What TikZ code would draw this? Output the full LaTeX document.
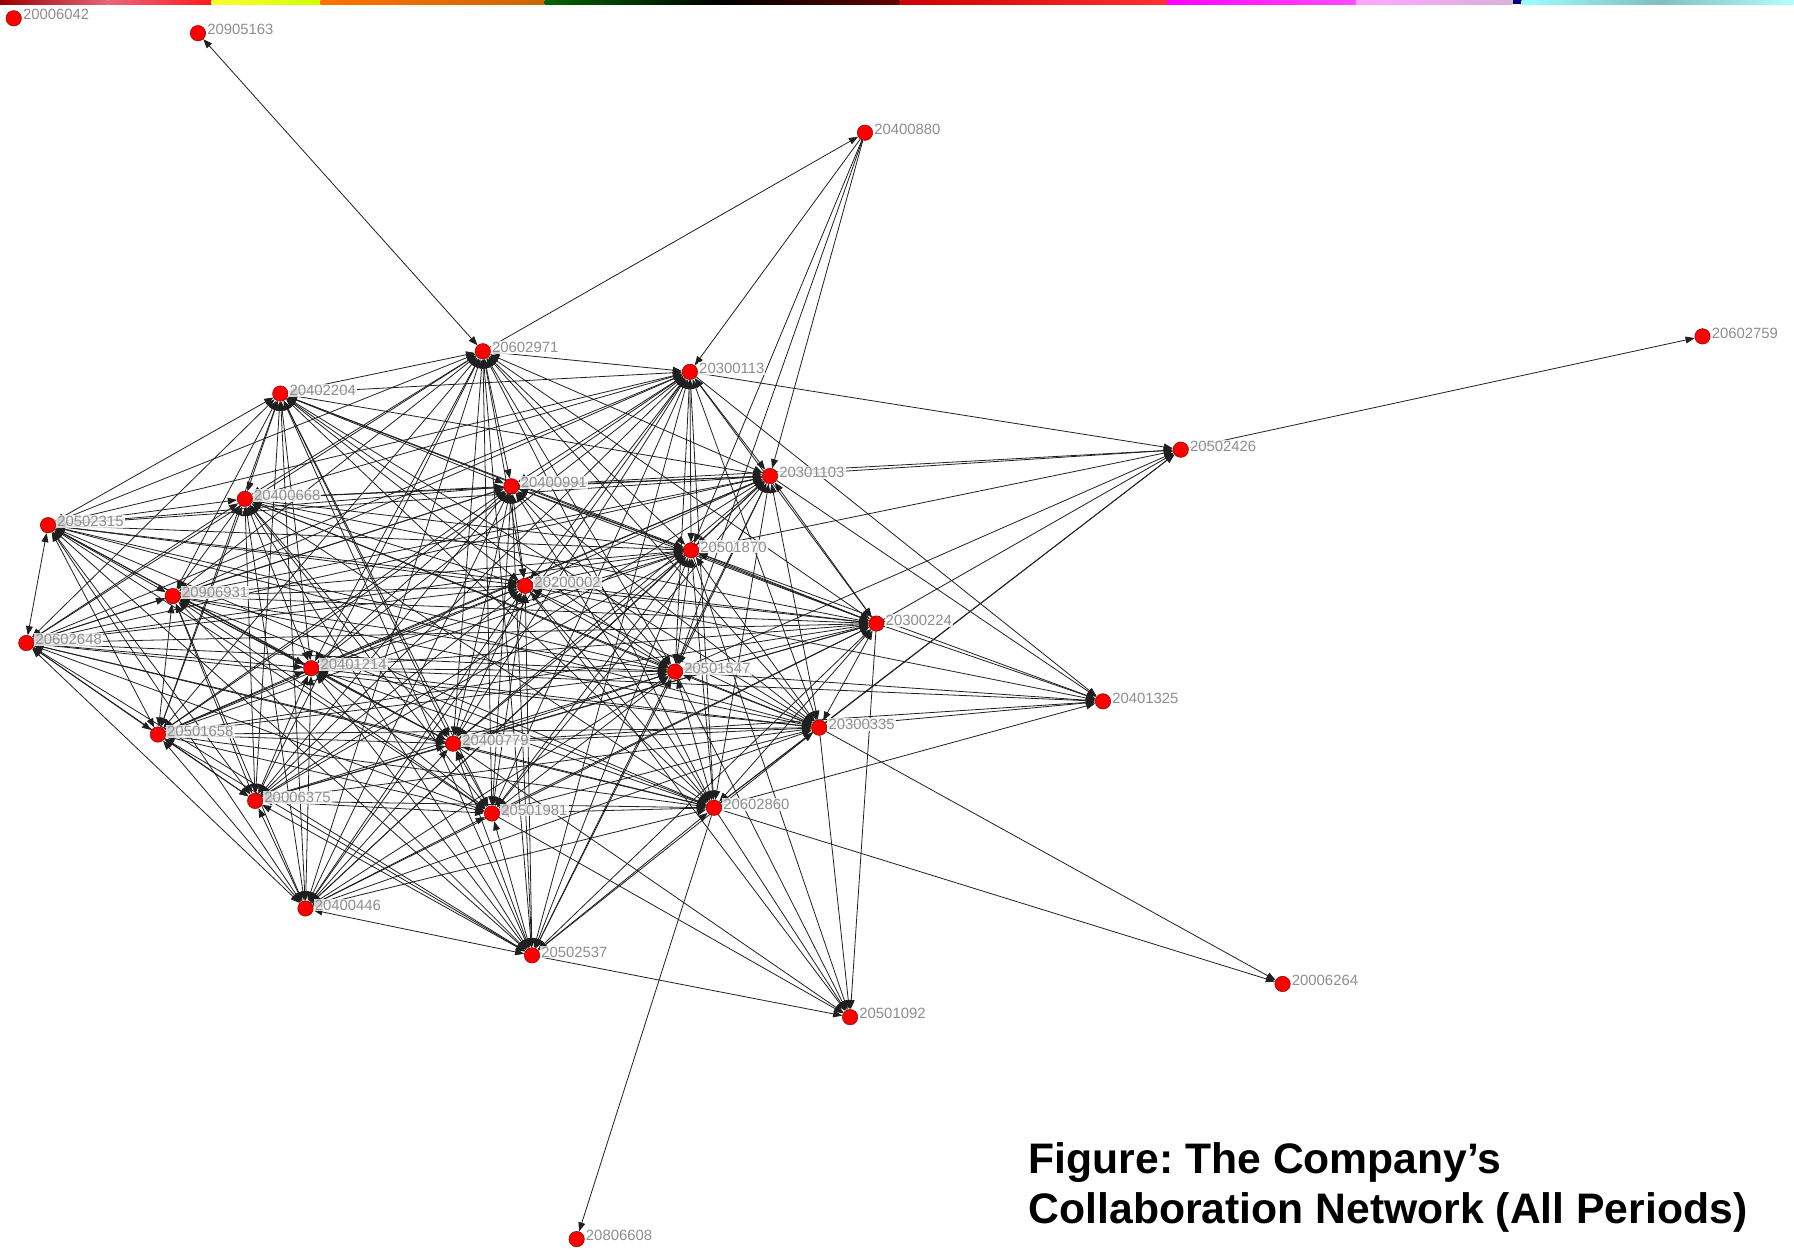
\documentclass[tikz,border=0pt]{standalone}
\usepackage{fontspec}
\setmainfont{Liberation Sans}
\usepackage{xcolor}
\definecolor{dot}{HTML}{FF0000}
\definecolor{dotrim}{HTML}{7A0000}
\definecolor{idtext}{HTML}{8E8E8E}
\usetikzlibrary{arrows.meta, backgrounds}
\tikzset{
  >={Triangle[length=8pt, width=6pt]},
  actor/.style={circle, fill=dot, draw=dotrim, line width=0.4pt, minimum size=13.5pt, inner sep=0pt},
  idlab/.style={font=\fontsize{13}{15}\selectfont, text=idtext, inner sep=1pt, yshift=3pt,
    fill=white, fill opacity=0.8, text opacity=1},
  tie/.style={line width=0.7pt, color=black!88},
  caption/.style={font=\fontsize{37.3}{44}\selectfont\bfseries, anchor=base west, inner sep=0pt},
}
\frenchspacing

\begin{document}
\begin{tikzpicture}[x=1pt, y=-1pt]
  \useasboundingbox (0,0) rectangle (1568,1092);

  % The colour strip along the top edge.
  \shade[left color=red!60!black, right color=red!85!blue!60] (0,0) rectangle (95,3.5);
  \shade[left color=red!85!blue!60, right color=red!90!white] (95,0) rectangle (185,3.5);
  \shade[left color=yellow!80!white, right color=lime!80!yellow] (185,0) rectangle (280,3.5);
  \shade[left color=orange!90!red, right color=orange!80!black] (280,0) rectangle (476,3.5);
  \shade[left color=green!40!black, right color=black] (476,0) rectangle (630,3.5);
  \shade[left color=black, right color=red!40!black] (630,0) rectangle (787,3.5);
  \shade[left color=red!80!black, right color=red!75!pink] (787,0) rectangle (1020,3.5);
  \shade[left color=magenta, right color=magenta!70!white] (1020,0) rectangle (1185,3.5);
  \shade[left color=magenta!35!white, right color=violet!30!white] (1185,0) rectangle (1322,3.5);
  \fill[blue!50!black] (1322,0) rectangle (1330,3.5);
  \shade[left color=cyan!40!white, right color=teal!50!white] (1330,0) rectangle (1450,3.5);
  \shade[left color=teal!50!white, right color=cyan!30!white] (1450,0) rectangle (1568,3.5);

  % Actors, placed as the layout put them.
  \node[actor, label={[idlab]right:20006042}] (n20006042) at (12,16) {};
  \node[actor, label={[idlab]right:20905163}] (n20905163) at (173,29) {};
  \node[actor, label={[idlab]right:20400880}] (n20400880) at (756,116) {};
  \node[actor, label={[idlab]right:20602759}] (n20602759) at (1488,294) {};
  \node[actor, label={[idlab]right:20602971}] (n20602971) at (422,307) {};
  \node[actor, label={[idlab]right:20300113}] (n20300113) at (603,325) {};
  \node[actor, label={[idlab]right:20402204}] (n20402204) at (245,344) {};
  \node[actor, label={[idlab]right:20502426}] (n20502426) at (1032,393) {};
  \node[actor, label={[idlab]right:20301103}] (n20301103) at (673,416) {};
  \node[actor, label={[idlab]right:20400991}] (n20400991) at (447,425) {};
  \node[actor, label={[idlab]right:20400668}] (n20400668) at (214,436) {};
  \node[actor, label={[idlab]right:20502315}] (n20502315) at (42,459) {};
  \node[actor, label={[idlab]right:20501870}] (n20501870) at (604,481) {};
  \node[actor, label={[idlab]right:20200002}] (n20200002) at (459,512) {};
  \node[actor, label={[idlab]right:20906931}] (n20906931) at (151,521) {};
  \node[actor, label={[idlab]right:20300224}] (n20300224) at (766,545) {};
  \node[actor, label={[idlab]right:20602648}] (n20602648) at (23,562) {};
  \node[actor, label={[idlab]right:20401214}] (n20401214) at (272,584) {};
  \node[actor, label={[idlab]right:20501547}] (n20501547) at (590,587) {};
  \node[actor, label={[idlab]right:20401325}] (n20401325) at (964,613) {};
  \node[actor, label={[idlab]right:20300335}] (n20300335) at (716,636) {};
  \node[actor, label={[idlab]right:20501658}] (n20501658) at (138,642) {};
  \node[actor, label={[idlab]right:20400779}] (n20400779) at (396,650) {};
  \node[actor, label={[idlab]right:20006375}] (n20006375) at (223,700) {};
  \node[actor, label={[idlab]right:20602860}] (n20602860) at (624,706) {};
  \node[actor, label={[idlab]right:20501981}] (n20501981) at (430,711) {};
  \node[actor, label={[idlab]right:20400446}] (n20400446) at (267,794) {};
  \node[actor, label={[idlab]right:20502537}] (n20502537) at (465,835) {};
  \node[actor, label={[idlab]right:20006264}] (n20006264) at (1121,860) {};
  \node[actor, label={[idlab]right:20501092}] (n20501092) at (743,889) {};
  \node[actor, label={[idlab]right:20806608}] (n20806608) at (504,1083) {};

  \def\corelist{20602971,20300113,20402204,20301103,20400991,20400668,20502315,20501870,
    20200002,20906931,20300224,20602648,20401214,20501547,20300335,20501658,20400779,
    20006375,20501981,20602860,20400446,20502537}

  \begin{scope}[on background layer]
    % The core: every pair of these actors worked together.
    \foreach \a [count=\i] in \corelist {
      \foreach \b [count=\j] in \corelist {
        \ifnum\j>\i \draw[tie, <->] (n\a) -- (n\b); \fi
      }
    }

    % Ties out to the actors round the edge.
    \draw[tie, <->] (n20602971) -- (n20905163);
    \draw[tie, ->] (n20602971) -- (n20400880);
    \foreach \t in {20300113,20301103,20501870,20501547}
      \draw[tie, ->] (n20400880) -- (n\t);
    \foreach \s in {20300113,20301103,20400991,20501870,20300224,20300335,20602860,20501547}
      \draw[tie, ->] (n\s) -- (n20502426);
    \draw[tie, ->] (n20502426) -- (n20602759);
    \foreach \s in {20300113,20301103,20501870,20200002,20300224,20501547,20300335,20401214,20400779,20602860}
      \draw[tie, ->] (n\s) -- (n20401325);
    \foreach \s in {20602860,20300335}
      \draw[tie, ->] (n\s) -- (n20006264);
    \foreach \s in {20602860,20300335,20300224,20501547,20502537,20501981,20400779,20200002,20501870}
      \draw[tie, ->] (n\s) -- (n20501092);
    \draw[tie, ->] (n20602860) -- (n20806608);
  \end{scope}

  \node[caption] (cap1) at (899,1026) {Figure: The Company’s};
  \node[caption] (cap2) at (899,1069) {Collaboration Network (All Periods)};
\end{tikzpicture}
\end{document}
